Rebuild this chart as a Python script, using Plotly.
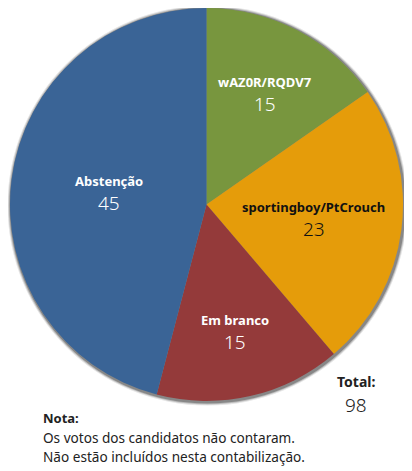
import math
import plotly.graph_objects as go

labels = ["wAZ0R/RQDV7", "sportingboy/PtCrouch", "Em branco", "Abstenção"]
values = [15, 23, 15, 45]
colors = ["#78963e", "#e59c0a", "#943a3a", "#3a6496"]
text_colors = ["white", "#111", "white", "white"]
label_radius = [0.64, 0.55, 0.66, 0.50]   # how far out each slice label sits
total = sum(values)
note_lines = ["Os votos dos candidatos não contaram.",
              "Não estão incluídos nesta contabilização."]

# the page body adds an 8px margin, so the figure is drawn 8px in from the window
OFF = 8
W, H = 412 - OFF, 471 - OFF
FONT = "Noto Sans"


def px(x):
    return (x - OFF) / W


def py(y):
    return 1 - (y - OFF) / H


def note(x, y, text, size, xanchor="center", weight="normal"):
    fig.add_annotation(x=px(x), y=py(y), xref="paper", yref="paper",
                       xanchor=xanchor, yanchor="middle", text=text, showarrow=False,
                       font=dict(family=FONT, size=size, color="#222", weight=weight))


# pie position in window pixels
cx, cy, r = 206.5, 204.5, 196.5

fig = go.Figure()
fig.add_trace(go.Pie(
    labels=labels, values=values, sort=False, direction="clockwise",
    marker=dict(colors=colors, line=dict(width=0)), textinfo="none",
    domain=dict(x=[px(cx - r), px(cx + r)], y=[py(cy + r), py(cy - r)]),
    showlegend=False, hoverinfo="label+value",
))

# slice labels at the middle angle of each slice (clockwise from 12 o'clock)
start = 0
for lab, val, col, k in zip(labels, values, text_colors, label_radius):
    mid = 2 * math.pi * (start + val / 2) / total
    start += val
    lx = cx + k * r * math.sin(mid)
    ly = cy - k * r * math.cos(mid)
    fig.add_annotation(x=px(lx), y=py(ly - 11), xref="paper", yref="paper",
                       xanchor="center", yanchor="middle", text=f"<b>{lab}</b>",
                       showarrow=False, font=dict(family=FONT, size=13, color=col))
    fig.add_annotation(x=px(lx), y=py(ly + 11), xref="paper", yref="paper",
                       xanchor="center", yanchor="middle", text=str(val),
                       showarrow=False,
                       font=dict(family=FONT, size=19, color=col, weight=300))

# soft shadow around the pie
for i, op in enumerate([0.10, 0.18, 0.28]):
    d = 3.5 - i
    fig.add_shape(type="circle", xref="paper", yref="paper", layer="below",
                  x0=px(cx - r - d + 1), x1=px(cx + r + d + 1),
                  y0=py(cy + r + d + 1), y1=py(cy - r - d + 1),
                  fillcolor=f"rgba(0,0,0,{op})", line=dict(width=0))

note(356, 381, "<b>Total:</b>", 14)
note(356, 405, str(total), 19, weight=300)
note(41, 418, "<b>Nota:</b>", 13, xanchor="left")
for i, line in enumerate(note_lines):
    note(41, 437 + 19 * i, line, 13.6, xanchor="left")

fig.update_layout(width=W, height=H, margin=dict(l=0, r=0, t=0, b=0),
                  paper_bgcolor="white", plot_bgcolor="white")
fig.write_html("out.html")
